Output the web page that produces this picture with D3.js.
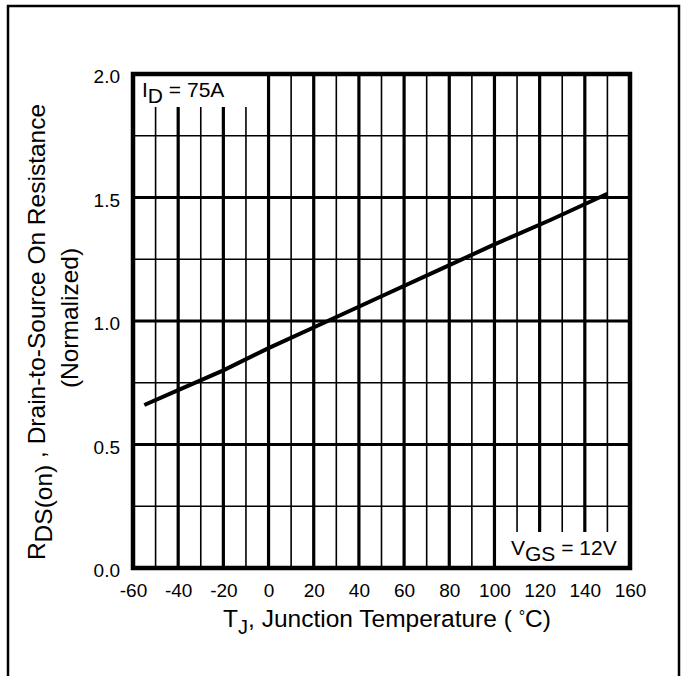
<!DOCTYPE html>
<html><head><meta charset="utf-8">
<script src="https://cdn.jsdelivr.net/npm/d3@7"></script>
<style>body{margin:0;background:#fff}svg{display:block}text{font-family:"Liberation Sans",Arial,sans-serif;fill:#000}</style>
</head><body>
<script>
const xTicks = [-60,-40,-20,0,20,40,60,80,100,120,140,160];
const yTicks = [0.0,0.5,1.0,1.5,2.0];
const xMinor = [-50,-30,-10,10,30,50,70,90,110,130,150];
const yMinor = [0.25,0.75,1.25,1.75];
const tempC = [-55,-40,-20,0,25,50,75,100,125,150];
const rdsNorm = [0.66,0.72,0.80,0.89,0.995,1.10,1.205,1.31,1.41,1.515];

const W=683,H=676;
const svg=d3.select("body").append("svg").attr("width",W).attr("height",H);
// outer frame
svg.append("path").attr("d",`M8,${H+5} L8,6 L679,6 L679,${H+5}`).attr("fill","none").attr("stroke","#000").attr("stroke-width",2.5);

const L=133,R=630,T=74,B=568;
const x=d3.scaleLinear().domain([-60,160]).range([L,R]);
const y=d3.scaleLinear().domain([0,2]).range([B,T]);

const g=svg.append("g");
// minor grid
g.selectAll(".vx").data(xMinor).join("line").attr("x1",d=>x(d)).attr("x2",d=>x(d)).attr("y1",T).attr("y2",B).attr("stroke","#000").attr("stroke-width",1.6);
g.selectAll(".hy").data(yMinor).join("line").attr("y1",d=>y(d)).attr("y2",d=>y(d)).attr("x1",L).attr("x2",R).attr("stroke","#000").attr("stroke-width",1.6);
// major grid
g.selectAll(".vX").data(xTicks.slice(1,-1)).join("line").attr("x1",d=>x(d)).attr("x2",d=>x(d)).attr("y1",T).attr("y2",B).attr("stroke","#000").attr("stroke-width",3.2);
g.selectAll(".hY").data(yTicks.slice(1,-1)).join("line").attr("y1",d=>y(d)).attr("y2",d=>y(d)).attr("x1",L).attr("x2",R).attr("stroke","#000").attr("stroke-width",3.2);

// label boxes (cover grid)
g.append("rect").attr("x",L).attr("y",T).attr("width",x(-1)-L).attr("height",33).attr("fill","#fff");
g.append("rect").attr("x",x(101.5)).attr("y",B-36).attr("width",R-x(101.5)).attr("height",36).attr("fill","#fff");

// data line
const line=d3.line().x((d,i)=>x(tempC[i])).y(d=>y(d));
g.append("path").datum(rdsNorm).attr("d",line).attr("fill","none").attr("stroke","#000").attr("stroke-width",4);

// plot border
g.append("rect").attr("x",L).attr("y",T).attr("width",R-L).attr("height",B-T).attr("fill","none").attr("stroke","#000").attr("stroke-width",4.5);

// axes labels via d3 axes
const xa=svg.append("g").attr("transform",`translate(0,580)`).call(d3.axisBottom(x).tickValues(xTicks).tickSize(0).tickFormat(d=>String(d)));
xa.select(".domain").remove();
xa.selectAll("text").attr("font-size",19).attr("font-family","Liberation Sans, Arial").attr("fill","#000");
const ya=svg.append("g").attr("transform",`translate(${L-10},0)`).call(d3.axisLeft(y).tickValues(yTicks).tickSize(0).tickFormat(d3.format(".1f")));
ya.select(".domain").remove();
ya.selectAll("text").attr("font-size",19).attr("font-family","Liberation Sans, Arial").attr("fill","#000").attr("dy","0.45em");

// annotations
const id=svg.append("text").attr("x",142).attr("y",97).attr("font-size",21);
id.append("tspan").text("I");
id.append("tspan").text("D").attr("dy",6);
id.append("tspan").text(" = 75A").attr("dy",-6);
const vg=svg.append("text").attr("x",511).attr("y",555).attr("font-size",21);
vg.append("tspan").text("V");
vg.append("tspan").text("GS").attr("dy",6);
vg.append("tspan").text(" = 12V").attr("dy",-6);

// x title
const xt=svg.append("text").attr("x",387).attr("y",627).attr("text-anchor","middle").attr("font-size",24.5);
xt.append("tspan").text("T");
xt.append("tspan").text("J").attr("dy",7).attr("font-size",20);
xt.append("tspan").text(", Junction Temperature ( ").attr("dy",-7);
xt.append("tspan").text("°").attr("dy",-5).attr("font-size",16);
xt.append("tspan").text("C)").attr("dy",5);

// y title
const yt=svg.append("text").attr("transform","translate(45,332) rotate(-90)").attr("text-anchor","middle").attr("font-size",24.5);
yt.append("tspan").text("R");
yt.append("tspan").text("DS(on)").attr("dy",7);
yt.append("tspan").text(" , Drain-to-Source On Resistance").attr("dy",-7);
svg.append("text").attr("transform","translate(78,318) rotate(-90)").attr("text-anchor","middle").attr("font-size",24.5).text("(Normalized)");
</script>
</body></html>
